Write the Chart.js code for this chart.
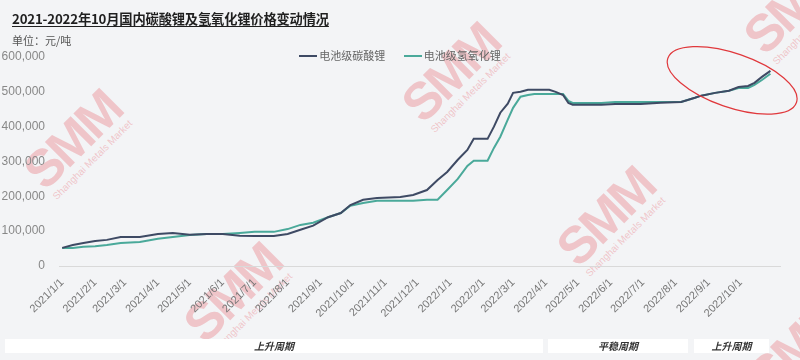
<!DOCTYPE html>
<html>
<head>
<meta charset="utf-8">
<script src="https://cdn.jsdelivr.net/npm/chart.js@4.4.1/dist/chart.umd.min.js"></script>
<style>
  html, body { margin: 0; padding: 0; }
  body { width: 800px; height: 360px; background: #f3f4f6; position: relative; overflow: hidden;
         font-family: "Noto Sans CJK SC", "Liberation Sans", sans-serif; }
  #wrap { position: absolute; left: 0; top: 0; width: 800px; height: 360px; z-index: 2; }
  .title { position: absolute; left: 12px; top: 9px; font-size: 13.3px; font-weight: bold; color: #1f1f1f;
           text-decoration: underline; text-underline-offset: 2px; z-index: 3; letter-spacing: -0.2px; }
  .unit { position: absolute; left: 12px; top: 32px; font-size: 11px; color: #555; z-index: 3; }
  .legend { position: absolute; top: 47px; left: 0; width: 800px; text-align: center; font-size: 11px; color: #666; z-index: 3; }
  .legend span.item { display: inline-block; margin: 0 8px; }
  .legend span.sw { display: inline-block; width: 18px; height: 2px; vertical-align: middle; margin-right: 2px; position: relative; top: -1px; }
  .band { position: absolute; top: 339px; height: 14px; background: #ffffff; z-index: 3;
          font-size: 10px; font-style: italic; font-weight: bold; color: #333; text-align: center; line-height: 14px; }
  .wm { position: absolute; z-index: 1; transform: rotate(-45deg); transform-origin: center; color: rgba(236,150,156,0.5);
        text-align: center; white-space: nowrap; }
  .wm b { display: block; font-family: "Liberation Sans", sans-serif; font-weight: 900; font-size: 52px; letter-spacing: -3px; line-height: 46px; }
  .wm i { display: block; font-style: normal; font-size: 10px; font-family: "Liberation Sans", sans-serif; }
</style>
</head>
<body>
<div class="wm" style="left:20px;top:115px;"><b>SMM</b><i>Shanghai Metals Market</i></div>
<div class="wm" style="left:398px;top:48px;"><b>SMM</b><i>Shanghai Metals Market</i></div>
<div class="wm" style="left:553px;top:192px;"><b>SMM</b><i>Shanghai Metals Market</i></div>
<div class="wm" style="left:180px;top:268px;"><b>SMM</b><i>Shanghai Metals Market</i></div>
<div class="wm" style="left:740px;top:-20px;"><b>SMM</b><i>Shanghai Metals Market</i></div>
<div class="wm" style="left:745px;top:320px;"><b>SMM</b><i>Shanghai Metals Market</i></div>

<div class="title">2021-2022年10月国内碳酸锂及氢氧化锂价格变动情况</div>
<div class="unit">单位：元/吨</div>
<div class="legend">
  <span class="item"><span class="sw" style="background:#3e4a64"></span>电池级碳酸锂</span>
  <span class="item"><span class="sw" style="background:#4aa99a"></span>电池级氢氧化锂</span>
</div>
<div id="wrap"><canvas id="c" width="800" height="360"></canvas></div>
<div class="band" style="left:5px;width:538px;">上升周期</div>
<div class="band" style="left:548px;width:140px;">平稳周期</div>
<div class="band" style="left:694px;width:75px;">上升周期</div>

<script>
// ---- data ----
const dates = [
  '2021-01-01','2021-01-11','2021-01-21','2021-02-01','2021-02-12','2021-02-25','2021-03-15',
  '2021-04-01','2021-04-15','2021-05-01','2021-05-17','2021-06-01','2021-06-17','2021-07-01',
  '2021-07-19','2021-08-01','2021-08-13','2021-08-25','2021-09-08','2021-09-20','2021-09-29',
  '2021-10-11','2021-10-24','2021-11-15','2021-11-27','2021-12-10','2021-12-20','2021-12-29',
  '2022-01-08','2022-01-17','2022-01-23','2022-02-05','2022-02-11','2022-02-17','2022-02-24',
  '2022-03-01','2022-03-08','2022-03-15','2022-03-21','2022-04-04','2022-04-10','2022-04-17',
  '2022-04-22','2022-04-26','2022-05-23','2022-06-05','2022-06-29','2022-07-18','2022-08-06',
  '2022-08-19','2022-08-25','2022-09-07','2022-09-20','2022-09-29','2022-10-08','2022-10-14',
  '2022-10-21','2022-10-29'
];
const carbonate = [
  52000, 60000, 66000, 72000, 75000, 83000, 83000,
  92000, 95000, 90000, 92000, 92000, 87000, 86000,
  86000, 92000, 104000, 116000, 140000, 152000, 175000,
  190000, 195000, 198000, 204000, 218000, 247000, 270000,
  305000, 333000, 365000, 365000, 400000, 440000, 466000,
  497000, 500000, 506000, 506000, 506000, 500000, 491000,
  468000, 463000, 463000, 465000, 465000, 469000, 471000,
  483000, 489000, 497000, 503000, 514000, 517000, 526000,
  543000, 560000
];
const hydroxide = [
  52000, 52000, 55000, 57000, 60000, 66000, 69000,
  78000, 83000, 89000, 92000, 92000, 95000, 98000,
  98000, 106000, 118000, 124000, 140000, 152000, 173000,
  181000, 187000, 187000, 187000, 190000, 190000, 218000,
  250000, 287000, 302000, 302000, 339000, 371000, 420000,
  454000, 486000, 491000, 494000, 494000, 494000, 494000,
  474000, 468000, 468000, 471000, 471000, 471000, 471000,
  483000, 489000, 497000, 503000, 511000, 511000, 520000,
  534000, 552000
];
const monthLabels = [
  '2021/1/1','2021/2/1','2021/3/1','2021/4/1','2021/5/1','2021/6/1','2021/7/1','2021/8/1',
  '2021/9/1','2021/10/1','2021/11/1','2021/12/1','2022/1/1','2022/2/1','2022/3/1','2022/4/1',
  '2022/5/1','2022/6/1','2022/7/1','2022/8/1','2022/9/1','2022/10/1'
];
const seriesNames = ['电池级碳酸锂', '电池级氢氧化锂'];
const highlight = { date: '2022-09-23', value: 533000 };

// ---- helpers ----
const BASE = Date.UTC(2021, 0, 1);
function dayOf(s) {
  const p = s.split(/[-\/]/).map(Number);
  return (Date.UTC(p[0], p[1] - 1, p[2]) - BASE) / 864e5;
}
const toPoints = vals => dates.map((d, i) => ({ x: dayOf(d), y: vals[i] }));

const ellipsePlugin = {
  id: 'ellipse',
  afterDatasetsDraw(chart) {
    const { ctx, scales } = chart;
    const cx = scales.x.getPixelForValue(dayOf(highlight.date));
    const cy = scales.y.getPixelForValue(highlight.value);
    ctx.save();
    ctx.beginPath();
    ctx.ellipse(cx, cy, 68, 27, 19 * Math.PI / 180, 0, Math.PI * 2);
    ctx.strokeStyle = '#e0383c';
    ctx.lineWidth = 1.2;
    ctx.stroke();
    ctx.restore();
  }
};

new Chart(document.getElementById('c'), {
  type: 'line',
  data: {
    datasets: [
      { label: seriesNames[0], data: toPoints(carbonate), borderColor: '#3e4a64', borderWidth: 2,
        pointRadius: 0, tension: 0, fill: false },
      { label: seriesNames[1], data: toPoints(hydroxide), borderColor: '#4aa99a', borderWidth: 2,
        pointRadius: 0, tension: 0, fill: false }
    ]
  },
  options: {
    responsive: false,
    animation: false,
    layout: { padding: { top: 57, right: 20, left: 0, bottom: 0 } },
    plugins: { legend: { display: false }, title: { display: false }, tooltip: { enabled: false } },
    scales: {
      x: {
        type: 'linear',
        min: -3, max: 675,
        afterFit: s => { s.height = 94; },
        afterBuildTicks: s => { s.ticks = monthLabels.map(t => ({ value: dayOf(t) })); },
        grid: { display: false, drawTicks: false },
        border: { display: true, color: '#d9d9d9', width: 1 },
        ticks: {
          autoSkip: false, minRotation: 45, maxRotation: 45, padding: 10,
          color: '#777', font: { family: 'Liberation Sans', size: 11 },
          callback: (v, i) => monthLabels[i]
        }
      },
      y: {
        min: 0, max: 600000,
        afterFit: s => { s.width = 59; },
        grid: { display: false, drawTicks: false },
        border: { display: false },
        ticks: {
          stepSize: 100000, padding: 14, color: '#888',
          font: { family: 'Liberation Sans', size: 12 },
          callback: v => v.toLocaleString('en-US')
        }
      }
    }
  },
  plugins: [ellipsePlugin]
});
</script>
</body>
</html>
